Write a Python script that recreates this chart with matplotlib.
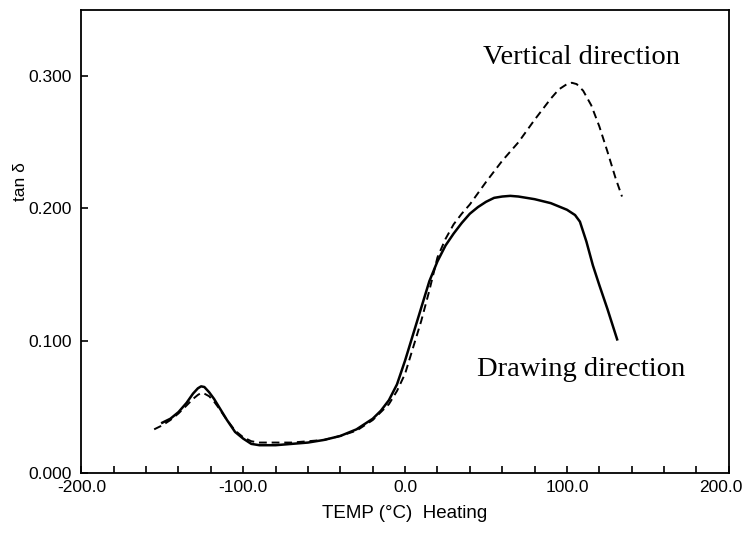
import numpy as np
import matplotlib
matplotlib.use("Agg")
import matplotlib.pyplot as plt
from matplotlib.ticker import MultipleLocator
from matplotlib.transforms import ScaledTranslation

# ---- data ----
temp_draw = [-150, -145, -140, -135, -131, -128, -126, -124, -121, -118, -115, -110, -105,
             -100, -95, -90, -80, -70, -60, -50, -40, -30, -20, -15, -10, -5, 0, 5, 10,
             15, 20, 25, 30, 35, 40, 45, 50, 55, 60, 65, 70, 80, 90, 95, 100, 105, 108,
             112, 116, 120, 125, 131]
tan_draw = [0.038, 0.041, 0.046, 0.053, 0.060, 0.064, 0.0655, 0.065, 0.061, 0.056, 0.050,
            0.040, 0.031, 0.026, 0.022, 0.021, 0.021, 0.022, 0.023, 0.025, 0.028, 0.033,
            0.041, 0.047, 0.055, 0.067, 0.085, 0.105, 0.125, 0.145, 0.160, 0.172, 0.181,
            0.189, 0.196, 0.201, 0.205, 0.208, 0.209, 0.2095, 0.209, 0.207, 0.204, 0.2015,
            0.199, 0.195, 0.190, 0.175, 0.157, 0.142, 0.124, 0.101]

temp_vert = [-155, -150, -145, -140, -135, -131, -128, -126, -124, -121, -118, -115, -110,
             -105, -100, -95, -90, -80, -70, -60, -50, -40, -30, -20, -15, -10, -5, 0, 5,
             10, 15, 20, 25, 30, 35, 40, 50, 60, 70, 80, 90, 95, 100, 103, 106, 110, 115,
             120, 125, 130, 134]
tan_vert = [0.033, 0.036, 0.040, 0.045, 0.051, 0.056, 0.059, 0.0605, 0.060, 0.058, 0.054,
            0.049, 0.040, 0.032, 0.027, 0.024, 0.023, 0.023, 0.023, 0.024, 0.025, 0.028,
            0.032, 0.040, 0.046, 0.052, 0.062, 0.075, 0.095, 0.115, 0.138, 0.163, 0.177,
            0.188, 0.196, 0.203, 0.220, 0.236, 0.250, 0.267, 0.283, 0.290, 0.294, 0.295,
            0.294, 0.289, 0.278, 0.262, 0.243, 0.223, 0.209]

x_labels = [-200, -100, 0, 100, 200]
y_labels = [0.0, 0.1, 0.2, 0.3]

tick_font = ["Liberation Sans", "DejaVu Sans"]
serif_font = ["Liberation Serif", "DejaVu Serif"]

fig = plt.figure(figsize=(7.46, 5.33), dpi=100)
ax = fig.add_axes([0.109, 0.1126, 0.868, 0.8686])

ax.plot(temp_draw, tan_draw, color="black", lw=1.8, solid_joinstyle="round")
ax.plot(temp_vert, tan_vert, color="black", lw=1.4, dashes=(4, 2.5))

ax.set_xlim(-200, 200)
ax.set_ylim(0, 0.35)

ax.set_xticks(x_labels)
ax.set_xticklabels([f"{v:.1f}" for v in x_labels])
ax.xaxis.set_minor_locator(MultipleLocator(20))
ax.set_yticks(y_labels)
ax.set_yticklabels([f"{v:.3f}" for v in y_labels])

ax.tick_params(which="both", direction="in", length=5, width=1.2, color="black")
ax.tick_params(axis="x", which="major", top=False, pad=5, labelsize=12.5)
ax.tick_params(axis="x", which="minor", top=False)
ax.tick_params(axis="y", right=False, pad=7, labelsize=12.5)
xlabs = ax.get_xticklabels()
for lab in xlabs + ax.get_yticklabels():
    lab.set_family(tick_font)
# pull the last x label in a little so it stays on the canvas
xlabs[-1].set_transform(xlabs[-1].get_transform()
                        + ScaledTranslation(-6 / 72, 0, fig.dpi_scale_trans))

for sp in ax.spines.values():
    sp.set_linewidth(1.3)

ax.set_xlabel("TEMP (°C)  Heating", family=tick_font, fontsize=13.5, labelpad=7)
ax.set_ylabel("tan δ", family=tick_font, fontsize=12.5)
ax.yaxis.set_label_coords(-0.083, 0.63)

ax.text(48, 0.314, "Vertical direction", family=serif_font, fontsize=20.5, va="center")
ax.text(44.5, 0.078, "Drawing direction", family=serif_font, fontsize=20.5, va="center")

fig.savefig("out.png", dpi=100)
